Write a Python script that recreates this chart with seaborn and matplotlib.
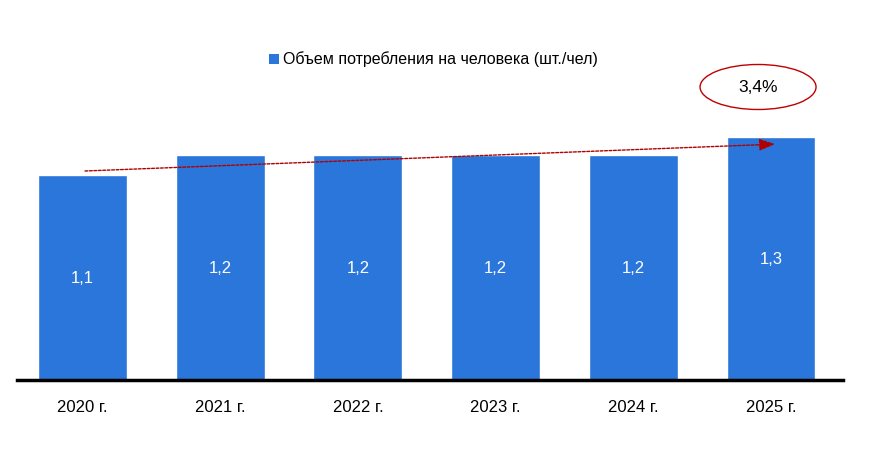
import matplotlib
matplotlib.use("Agg")
import matplotlib.pyplot as plt
from matplotlib import font_manager
from matplotlib.patches import Ellipse, Rectangle
import seaborn as sns
import pandas as pd

years = ["2020 г.", "2021 г.", "2022 г.", "2023 г.", "2024 г.", "2025 г."]
values = [1.13, 1.24, 1.24, 1.24, 1.24, 1.34]
series_name = "Объем потребления на человека (шт./чел)"
cagr_label = "3,4%"

sns.set_theme(style="white")
names = {f.name for f in font_manager.fontManager.ttflist}
fam = [f for f in ["Liberation Sans Narrow", "Liberation Sans", "DejaVu Sans"] if f in names]
plt.rcParams["font.family"] = fam

df = pd.DataFrame({"year": years, "value": values})
blue = "#2A76DA"

fig = plt.figure(figsize=(8.73, 4.56), dpi=100)
W, H = 873, 456
ax = fig.add_axes([17 / W, (H - 381) / H, 826 / W, (381 - 63.5) / H])
sns.barplot(data=df, x="year", y="value", color=blue, width=0.646,
            saturation=1, ax=ax)
ax.set_xlim(-0.476, 5.523)
ax.set_ylim(0, 1.75)
ax.set_xlabel("")
ax.set_ylabel("")
ax.set_yticks([])
for s in ["left", "right", "top"]:
    ax.spines[s].set_visible(False)
ax.spines["bottom"].set_color("black")
ax.spines["bottom"].set_linewidth(2.5)
ax.tick_params(axis="x", length=0, pad=14, labelsize=12, colors="black")

for i, v in enumerate(values):
    ax.text(i, v / 2, f"{v:.1f}".replace(".", ","), ha="center", va="center",
            color="white", fontsize=12)

# trend arrow
ax.annotate("", xy=(5.03, 1.30), xytext=(0.018, 1.152),
            arrowprops=dict(arrowstyle="-|>,head_length=0.8,head_width=0.3",
                            color="#B00000", lw=1, linestyle=(0, (2, 1.2)),
                            shrinkA=0, shrinkB=0))

# CAGR ellipse
ell = Ellipse((4.906, 1.615), width=116 / 137.7, height=45 / 181.4,
              facecolor="white", edgecolor="#C00000", lw=1, clip_on=False)
ax.add_patch(ell)
ax.text(4.906, 1.615, cagr_label, ha="center", va="center", fontsize=12.5,
        color="black")

# legend
fig.patches.append(Rectangle((269 / W, (H - 65) / H), 10 / W, 10 / H,
                             transform=fig.transFigure, facecolor=blue,
                             edgecolor="none"))
fig.text(283 / W, (H - 59) / H, series_name, ha="left", va="center",
         fontsize=11.5, color="black")

fig.savefig("out.png", dpi=100)
